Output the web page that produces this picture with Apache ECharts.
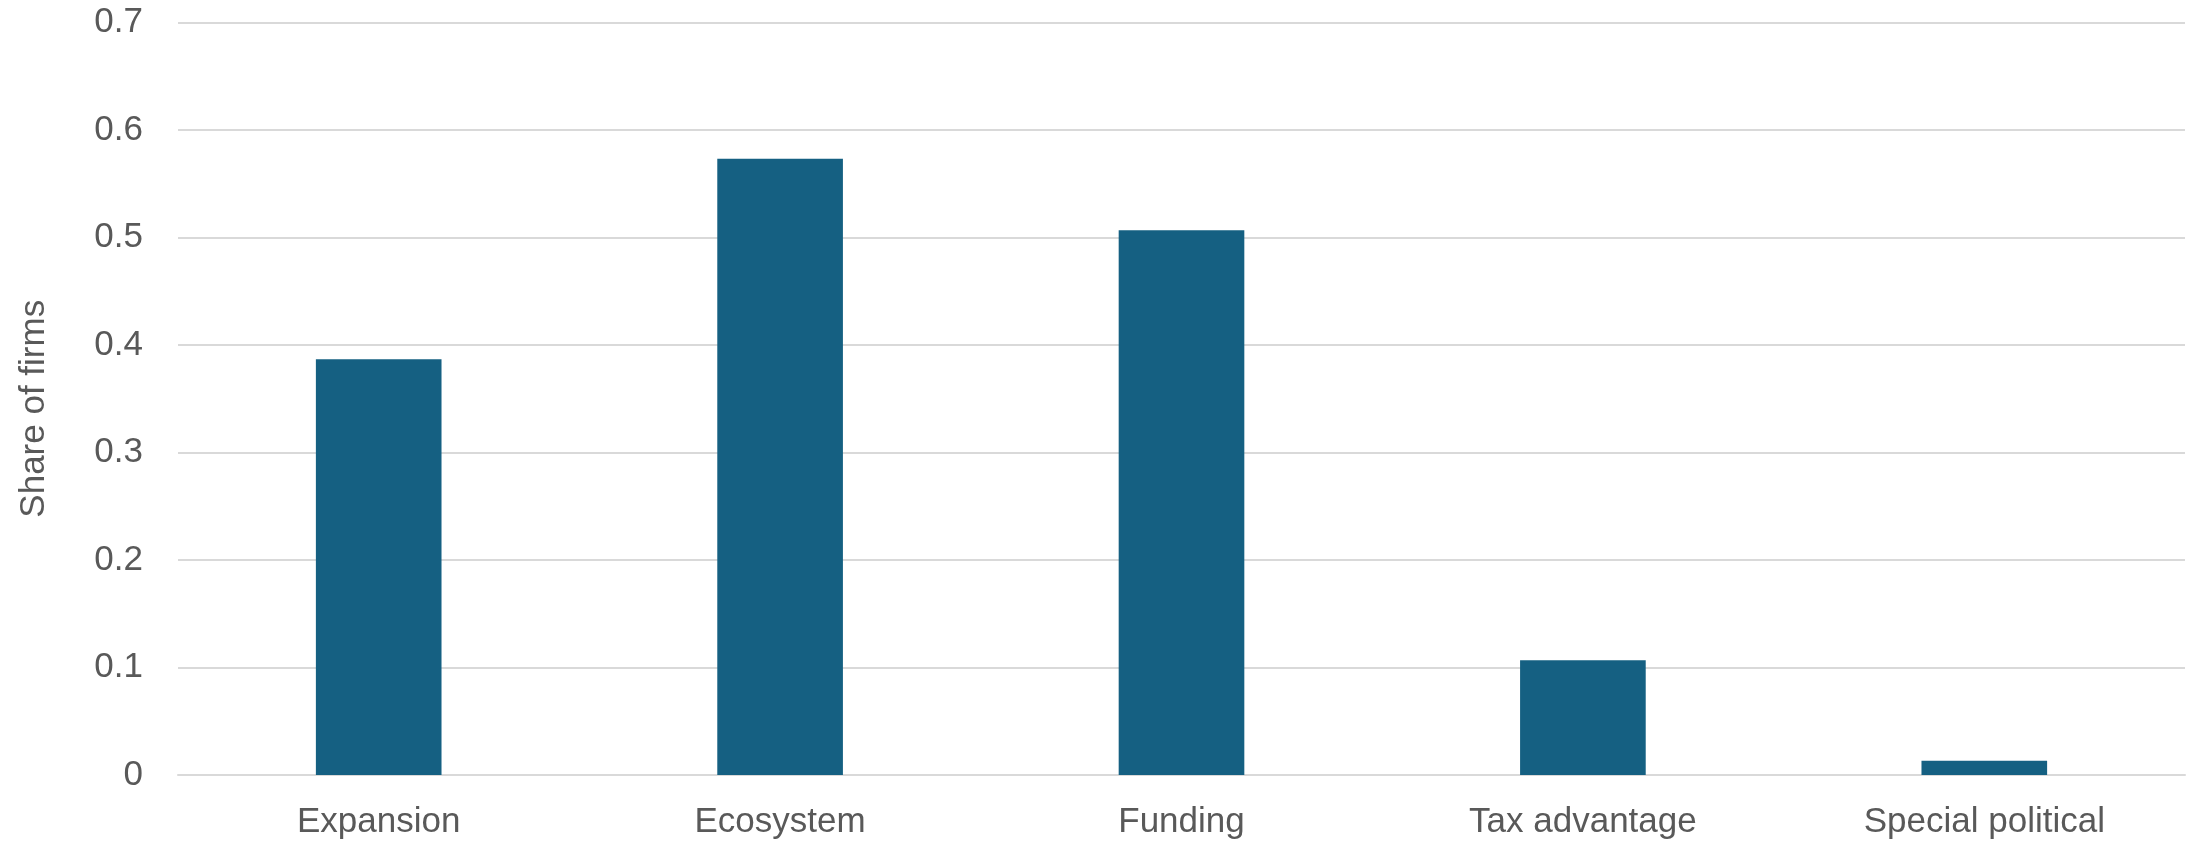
<!DOCTYPE html>
<html>
<head>
<meta charset="utf-8">
<title>Share of firms</title>
<script src="https://cdn.jsdelivr.net/npm/echarts@6/dist/echarts.min.js"></script>
<style>
  html, body { margin: 0; padding: 0; background: #ffffff; }
  #chart { width: 2196px; height: 842px; }
</style>
</head>
<body>
<div id="chart"></div>
<script>
// Reasons cited by firms, as a share of all responding firms
const categories = ['Expansion', 'Ecosystem', 'Funding', 'Tax advantage', 'Special political'];
const shareOfFirms = [0.3867, 0.5733, 0.5067, 0.1067, 0.0133];
const yTicks = { min: 0, max: 0.7, interval: 0.1 };

const textColor = '#595959';
const gridColor = '#d9d9d9';
const barColor = '#156082';
const fontFamily = 'Liberation Sans, Arial, sans-serif';

const chart = echarts.init(document.getElementById('chart'), null, { renderer: 'canvas' });

chart.setOption({
  animation: false,
  backgroundColor: '#ffffff',
  grid: {
    left: 178, right: 11, top: 22.5, bottom: 67,
    containLabel: false,
    outerBoundsMode: 'none'
  },
  xAxis: {
    type: 'category',
    data: categories,
    axisLine: { show: true, lineStyle: { color: gridColor, width: 2 } },
    axisTick: { show: false },
    axisLabel: {
      color: textColor,
      fontFamily: fontFamily,
      fontSize: 35,
      margin: 30
    }
  },
  yAxis: {
    type: 'value',
    min: yTicks.min,
    max: yTicks.max,
    interval: yTicks.interval,
    name: 'Share of firms',
    nameLocation: 'middle',
    nameGap: 126,
    nameRotate: 90,
    nameTextStyle: {
      color: textColor,
      fontFamily: fontFamily,
      fontSize: 35,
      padding: [0, 20, 0, 0]
    },
    axisLine: { show: false },
    axisTick: { show: false },
    splitLine: { lineStyle: { color: gridColor, width: 2 } },
    axisLabel: {
      color: textColor,
      fontFamily: fontFamily,
      fontSize: 35,
      margin: 35,
      padding: [4, 0, 0, 0],
      formatter: v => (Math.round(v * 10) / 10).toString()
    }
  },
  series: [{
    type: 'bar',
    data: shareOfFirms,
    barWidth: '31.3%',
    itemStyle: { color: barColor }
  }]
});
</script>
</body>
</html>
